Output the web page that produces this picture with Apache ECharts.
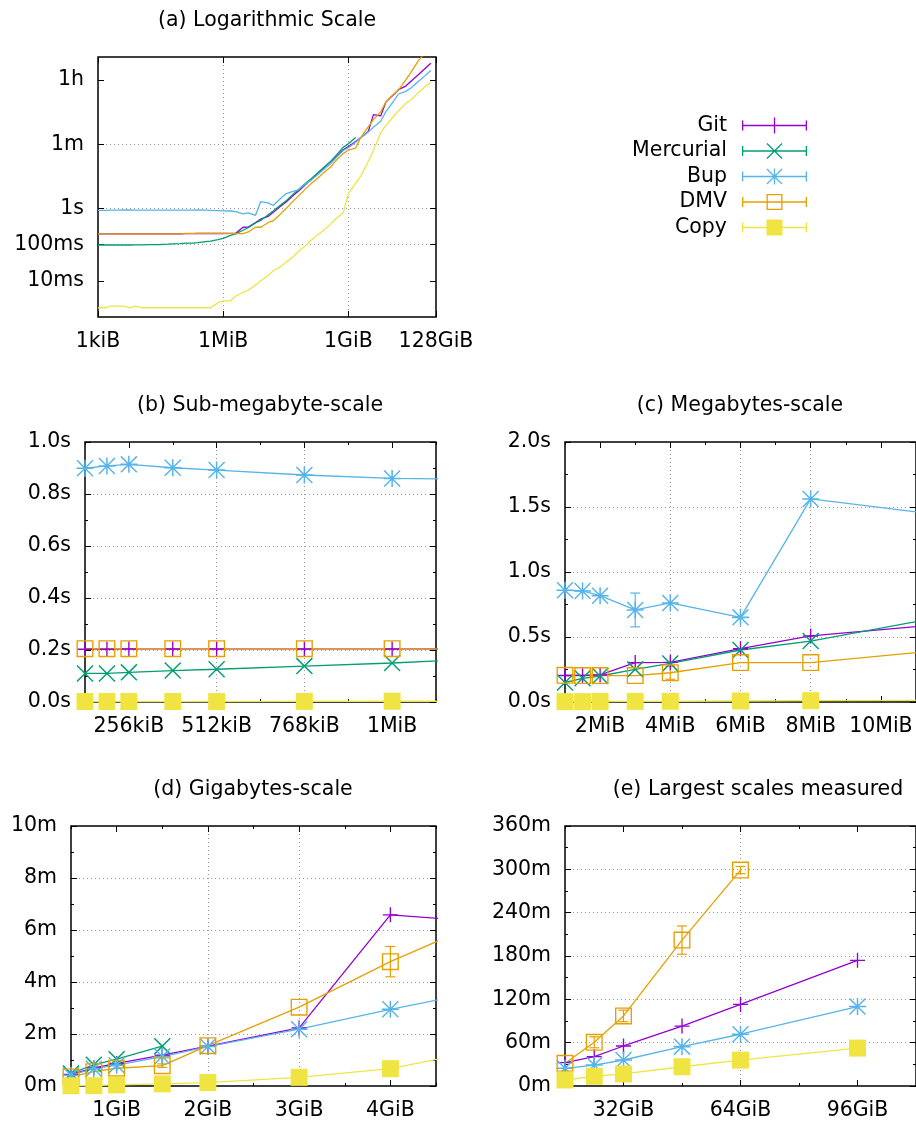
<!DOCTYPE html>
<html>
<head>
<meta charset="utf-8">
<script src="https://cdn.jsdelivr.net/npm/echarts@6/dist/echarts.min.js"></script>
<style>
  html, body { margin: 0; padding: 0; background: #fff; }
  #chart { width: 916px; height: 1124px; }
</style>
</head>
<body>
<div id="chart"></div>
<script>
// Repository sizes tested, in kiB (1 kiB … 96 GiB)
const SIZES_KIB = [
  1, 1.5, 2, 3, 4, 6, 8, 12, 16, 24, 32, 48, 64, 96,
  128, 192, 256, 384, 512, 768, 1024,
  1536, 2048, 3072, 4096, 6144, 8192, 12288,
  16384, 24576, 32768, 49152, 65536, 98304, 131072, 196608, 262144, 393216, 524288, 786432,
  1048576, 1572864, 2097152, 3145728, 4194304, 6291456, 8388608, 12582912,
  16777216, 25165824, 33554432, 50331648, 67108864, 100663296
];

// Run times in seconds, one value per size above (null: not measured)
const GIT = [
  0.2, 0.2, 0.2, 0.2, 0.2, 0.2, 0.2, 0.2, 0.2, 0.2, 0.2, 0.2, 0.2, 0.2,
  0.203, 0.203, 0.204, 0.204, 0.204, 0.204, 0.204,
  0.205, 0.208, 0.303, 0.305, 0.41, 0.508, 0.603,
  0.79, 1.16, 1.5, 2.3, 3.0, 4.6, 6.2, 9.6, 12.9, 19.8, 26.6, 42,
  52, 71, 92, 134, 395, 364, 890, 1370,
  1940, 2436, 3324, 4980, 6780, 10440
];
const MERCURIAL = [
  0.098, 0.098, 0.098, 0.098, 0.098, 0.098, 0.099, 0.099, 0.1, 0.1, 0.101, 0.103, 0.105, 0.107,
  0.110, 0.110, 0.114, 0.121, 0.126, 0.138, 0.15,
  0.182, 0.2, 0.251, 0.297, 0.4, 0.469, 0.668,
  0.85, 1.25, 1.6, 2.5, 3.3, 5.0, 6.6, 10, 13.5, 20, 29, 49,
  62, 92, null, null, null, null, null, null,
  null, null, null, null, null, null
];
const BUP = [
  0.89, 0.89, 0.9, 0.9, 0.91, 0.91, 0.9, 0.9, 0.9, 0.9, 0.9, 0.9, 0.9, 0.9,
  0.899, 0.908, 0.914, 0.901, 0.892, 0.873, 0.86,
  0.854, 0.818, 0.708, 0.762, 0.651, 1.562, 1.43,
  1.21, 1.9, 2.55, 3.0, 3.3, 4.8, 6.0, 8.8, 11.8, 17.4, 25, 40,
  48, 68, 91, 131, 177, 260, 480, 900,
  1470, 1740, 2160, 3270, 4300, 6600
];
const DMV = [
  0.2, 0.2, 0.2, 0.2, 0.2, 0.2, 0.2, 0.2, 0.2, 0.2, 0.2, 0.2, 0.2, 0.2,
  0.205, 0.205, 0.205, 0.205, 0.205, 0.205, 0.205,
  0.203, 0.203, 0.203, 0.225, 0.303, 0.303, 0.406,
  0.46, 0.71, 0.98, 1.6, 2.2, 3.5, 4.8, 7.1, 9.6, 14, 21, 33,
  41, 47, 93, 182, 287, 470, 900, 1430,
  1885, 3630, 5820, 12120, 17940, null
];
const COPY = [
  0.0018, 0.0018, 0.002, 0.002, 0.002, 0.0018, 0.002, 0.0018, 0.0018, 0.0018, 0.0018, 0.0018, 0.0018, 0.0018,
  0.0018, 0.0018, 0.0018, 0.0018, 0.0018, 0.0025, 0.0028,
  0.0028, 0.0038, 0.0048, 0.0055, 0.0076, 0.01, 0.014,
  0.019, 0.0245, 0.032, 0.046, 0.065, 0.094, 0.13, 0.19, 0.245, 0.37, 0.52, 0.76,
  2.6, 5, 8, 20, 40, 125, 200, 345,
  500, 810, 1000, 1600, 2150, 3150
];

// Spread of repeated runs: [size in kiB, ± seconds]
const GIT_ERR = [];
const MERCURIAL_ERR = [];
const BUP_ERR = [[3072, 0.13]];
const DMV_ERR = [[4096, 0.05], [1572864, 4], [4194304, 35], [25165824, 456], [33554432, 480], [50331648, 1176], [67108864, 300]];
const COPY_ERR = [];

// Axis ticks and their labels
const A_X_TICKS = [1, 1024, 1048576, 134217728];
const A_X_LABELS = ['1kiB', '1MiB', '1GiB', '128GiB'];
const A_Y_TICKS = [0.01, 0.1, 1, 60, 3600];
const A_Y_LABELS = ['10ms', '100ms', '1s', '1m', '1h'];
const B_X_TICKS = [256, 512, 768, 1024];
const B_X_LABELS = ['256kiB', '512kiB', '768kiB', '1MiB'];
const B_Y_TICKS = [0, 0.2, 0.4, 0.6, 0.8, 1.0];
const B_Y_LABELS = ['0.0s', '0.2s', '0.4s', '0.6s', '0.8s', '1.0s'];
const C_X_TICKS = [2048, 4096, 6144, 8192, 10240];
const C_X_LABELS = ['2MiB', '4MiB', '6MiB', '8MiB', '10MiB'];
const C_Y_TICKS = [0, 0.5, 1.0, 1.5, 2.0];
const C_Y_LABELS = ['0.0s', '0.5s', '1.0s', '1.5s', '2.0s'];
const D_X_TICKS = [1048576, 2097152, 3145728, 4194304];
const D_X_LABELS = ['1GiB', '2GiB', '3GiB', '4GiB'];
const D_Y_TICKS = [0, 120, 240, 360, 480, 600];
const D_Y_LABELS = ['0m', '2m', '4m', '6m', '8m', '10m'];
const E_X_TICKS = [33554432, 67108864, 100663296];
const E_X_LABELS = ['32GiB', '64GiB', '96GiB'];
const E_Y_TICKS = [0, 3600, 7200, 10800, 14400, 18000, 21600];
const E_Y_LABELS = ['0m', '60m', '120m', '180m', '240m', '300m', '360m'];

// ---- styling ----
const FONT = 'DejaVu Sans';
const FS = 20.5;
const GRID_DOT = { color: '#999999', width: 1, type: [1, 3] };
const TICK = { color: '#000', width: 1 };

const SYM_PLUS = 'path://M0,4.55H10V5.45H0Z M4.55,0H5.45V10H4.55Z';
const SYM_X = 'path://M0,0.6L0.6,0L10,9.4L9.4,10Z M9.4,0L10,0.6L0.6,10L0,9.4Z';
const SYM_STAR = 'path://M0,4.55H10V5.45H0Z M4.55,0H5.45V10H4.55Z M0,0.6L0.6,0L10,9.4L9.4,10Z M9.4,0L10,0.6L0.6,10L0,9.4Z';
const SYM_BOX = 'path://M0,0H10V10H0Z M0.8,0.8V9.2H9.2V0.8Z';

// legend samples: error-bar line with the point symbol in the middle (65 x 16)
const KEY_BASE = 'M0,7.35H65V8.65H0Z M0,3H1.3V13H0Z M63.7,3H65V13H63.7Z ';
const KEY_MARK = {
  plus: 'M25,7.35H40V8.65H25Z M31.85,0H33.15V16H31.85Z',
  x: 'M24.5,0.9L25.4,0L40.5,15.1L39.6,16Z M39.6,0L40.5,0.9L25.4,16L24.5,15.1Z',
  star: 'M25,7.35H40V8.65H25Z M31.85,0H33.15V16H31.85Z M24.5,0.9L25.4,0L40.5,15.1L39.6,16Z M39.6,0L40.5,0.9L25.4,16L24.5,15.1Z',
  box: 'M24.5,0H40.5V16H24.5Z M25.8,1.3V14.7H39.2V1.3Z',
  fill: 'M24.5,0H40.5V16H24.5Z'
};

const TOOLS = [
  { name: 'Git',       color: '#9400d3', values: GIT,       err: GIT_ERR,       symbol: SYM_PLUS, size: 15, key: 'plus' },
  { name: 'Mercurial', color: '#009e73', values: MERCURIAL, err: MERCURIAL_ERR, symbol: SYM_X,    size: 17, key: 'x' },
  { name: 'Bup',       color: '#56b4e9', values: BUP,       err: BUP_ERR,       symbol: SYM_STAR, size: 17, key: 'star' },
  { name: 'DMV',       color: '#e69f00', values: DMV,       err: DMV_ERR,       symbol: SYM_BOX,  size: 17, key: 'box' },
  { name: 'Copy',      color: '#f0e442', values: COPY,      err: COPY_ERR,      symbol: 'rect',   size: 17, key: 'fill' }
];

const PANELS = [
  { title: '(a) Logarithmic Scale', titleX: 267, box: [98, 57, 338, 260], log: true,
    x: { min: 1, max: 134217728, ticks: A_X_TICKS, labels: A_X_LABELS },
    y: { min: 0.001, max: 15500, ticks: A_Y_TICKS, labels: A_Y_LABELS } },
  { title: '(b) Sub-megabyte-scale', titleX: 260, box: [85, 442, 351, 260],
    x: { min: 128, max: 1152, minor: 128, ticks: B_X_TICKS, labels: B_X_LABELS },
    y: { min: 0, max: 1, major: 0.2, ticks: B_Y_TICKS, labels: B_Y_LABELS } },
  { title: '(c) Megabytes-scale', titleX: 740, box: [565, 442, 351, 260],
    x: { min: 1024, max: 11264, minor: 1024, ticks: C_X_TICKS, labels: C_X_LABELS },
    y: { min: 0, max: 2, major: 0.5, ticks: C_Y_TICKS, labels: C_Y_LABELS } },
  { title: '(d) Gigabytes-scale', titleX: 253, box: [71, 826, 365, 260],
    x: { min: 524288, max: 4718592, minor: 524288, ticks: D_X_TICKS, labels: D_X_LABELS },
    y: { min: 0, max: 600, major: 120, ticks: D_Y_TICKS, labels: D_Y_LABELS } },
  { title: '(e) Largest scales measured', titleX: 758, box: [565, 826, 351, 260],
    x: { min: 16777216, max: 117440512, minor: 16777216, ticks: E_X_TICKS, labels: E_X_LABELS },
    y: { min: 0, max: 21600, major: 3600, ticks: E_Y_TICKS, labels: E_Y_LABELS } }
];

function lookup(ticks, labels) {
  return function (v) {
    for (let i = 0; i < ticks.length; i++) {
      if (Math.abs(ticks[i] - v) <= 1e-6 * Math.max(1, Math.abs(v))) return labels[i];
    }
    return '';
  };
}

const labelStyle = { color: '#000', fontFamily: FONT, fontSize: FS, margin: 14, hideOverlap: false,
                     showMinLabel: true, showMaxLabel: true };

// axis carrying the major ticks, labels and dotted grid at explicit values
function customAxis(g, pos, min, max, ticks, labels, withLabels) {
  return {
    gridIndex: g, type: 'value', position: pos, min: min, max: max,
    axisLine: { show: false, onZero: false },
    axisTick: { show: true, inside: true, length: 6, customValues: ticks, lineStyle: TICK },
    minorTick: { show: false },
    axisLabel: Object.assign({ show: withLabels, customValues: ticks, formatter: lookup(ticks, labels) }, labelStyle),
    splitLine: { show: withLabels, showMinLine: false, showMaxLine: false, lineStyle: GRID_DOT },
    silent: true
  };
}
// short ticks every half step
function minorAxis(g, pos, x) {
  return {
    gridIndex: g, type: 'value', position: pos, min: x.min, max: x.max, interval: x.minor,
    axisLine: { show: false, onZero: false },
    axisTick: { show: true, inside: true, length: 3, lineStyle: TICK },
    axisLabel: { show: false }, splitLine: { show: false }, silent: true
  };
}
function linearY(g, pos, y, withLabels) {
  return {
    gridIndex: g, type: 'value', position: pos, min: y.min, max: y.max, interval: y.major,
    axisLine: { show: false, onZero: false },
    axisTick: { show: true, inside: true, length: 6, lineStyle: TICK },
    minorTick: { show: true, splitNumber: 2, length: 3, lineStyle: TICK },
    axisLabel: Object.assign({ show: withLabels, formatter: lookup(y.ticks, y.labels) }, labelStyle),
    splitLine: { show: withLabels, showMinLine: false, showMaxLine: false, lineStyle: GRID_DOT },
    silent: true
  };
}

function errorBars(color) {
  return function (params, api) {
    const x = api.value(0);
    const lo = api.coord([x, api.value(1)]);
    const hi = api.coord([x, api.value(2)]);
    const w = 5;
    const st = { stroke: color, lineWidth: 1.2 };
    return {
      type: 'group',
      children: [
        { type: 'line', shape: { x1: lo[0], y1: lo[1], x2: hi[0], y2: hi[1] }, style: st },
        { type: 'line', shape: { x1: lo[0] - w, y1: lo[1], x2: lo[0] + w, y2: lo[1] }, style: st },
        { type: 'line', shape: { x1: hi[0] - w, y1: hi[1], x2: hi[0] + w, y2: hi[1] }, style: st }
      ]
    };
  };
}

const grids = [], xAxes = [], yAxes = [], series = [], graphics = [];

PANELS.forEach(function (p, g) {
  const [left, top, width, height] = p.box;
  grids.push({ left: left, top: top, width: width, height: height, show: true,
               borderColor: '#000', borderWidth: 1.5, backgroundColor: 'transparent',
               containLabel: false, outerBoundsMode: 'none' });
  graphics.push({ type: 'text', x: p.titleX, y: top - 36.8, silent: true,
    style: { text: p.title, fill: '#000', font: FS + 'px "' + FONT + '"',
             textAlign: 'center', textVerticalAlign: 'middle', align: 'center', verticalAlign: 'middle' } });

  let xi, yi;
  if (p.log) {
    xi = xAxes.length;
    xAxes.push({ gridIndex: g, type: 'log', logBase: 2, min: p.x.min, max: p.x.max, show: false });
    const lx = p.x.ticks.map(Math.log2);
    xAxes.push(customAxis(g, 'bottom', Math.log2(p.x.min), Math.log2(p.x.max), lx, p.x.labels, true));
    xAxes.push(customAxis(g, 'top', Math.log2(p.x.min), Math.log2(p.x.max), lx, p.x.labels, false));
    yi = yAxes.length;
    yAxes.push({ gridIndex: g, type: 'log', logBase: 10, min: p.y.min, max: p.y.max, show: false });
    const ly = p.y.ticks.map(Math.log10);
    yAxes.push(customAxis(g, 'left', Math.log10(p.y.min), Math.log10(p.y.max), ly, p.y.labels, true));
    yAxes.push(customAxis(g, 'right', Math.log10(p.y.min), Math.log10(p.y.max), ly, p.y.labels, false));
  } else {
    xi = xAxes.length;
    ['bottom', 'top'].forEach(function (pos) {
      xAxes.push(minorAxis(g, pos, p.x));
      xAxes.push(customAxis(g, pos, p.x.min, p.x.max, p.x.ticks, p.x.labels, pos === 'bottom'));
    });
    yi = yAxes.length;
    yAxes.push(linearY(g, 'left', p.y, true));
    yAxes.push(linearY(g, 'right', p.y, false));
  }

  TOOLS.forEach(function (t) {
    const pts = [];
    SIZES_KIB.forEach(function (s, i) { if (t.values[i] != null) pts.push([s, t.values[i]]); });
    series.push({
      type: 'line', name: t.name, xAxisIndex: xi, yAxisIndex: yi, data: pts,
      symbol: p.log ? 'none' : t.symbol, symbolSize: t.size, showSymbol: !p.log,
      lineStyle: { color: t.color, width: 1.3 },
      itemStyle: { color: t.color, borderWidth: 0 },
      clip: true, silent: true, animation: false, emphasis: { disabled: true }
    });
    if (!p.log && t.err.length) {
      const bars = t.err.filter(function (e) { return e[0] >= p.x.min && e[0] <= p.x.max; })
        .map(function (e) {
          const v = t.values[SIZES_KIB.indexOf(e[0])];
          return [e[0], v - e[1], v + e[1]];
        });
      if (bars.length) {
        series.push({ type: 'custom', xAxisIndex: xi, yAxisIndex: yi, data: bars, clip: true,
                      silent: true, animation: false, renderItem: errorBars(t.color) });
      }
    }
  });
});

const chart = echarts.init(document.getElementById('chart'), null, { renderer: 'canvas' });
chart.setOption({
  animation: false,
  backgroundColor: '#fff',
  textStyle: { fontFamily: FONT },
  grid: grids,
  xAxis: xAxes,
  yAxis: yAxes,
  legend: {
    orient: 'vertical', align: 'right', right: 109, top: 115, padding: 0,
    itemWidth: 65, itemHeight: 16, itemGap: 4.5, selectedMode: false,
    textStyle: { color: '#000', fontFamily: FONT, fontSize: FS, padding: [0, 10, 0, 0] },
    data: TOOLS.map(function (t) {
      return { name: t.name, icon: 'path://' + KEY_BASE + KEY_MARK[t.key],
               itemStyle: { color: t.color, borderWidth: 0 } };
    })
  },
  graphic: graphics,
  series: series
});
</script>
</body>
</html>
